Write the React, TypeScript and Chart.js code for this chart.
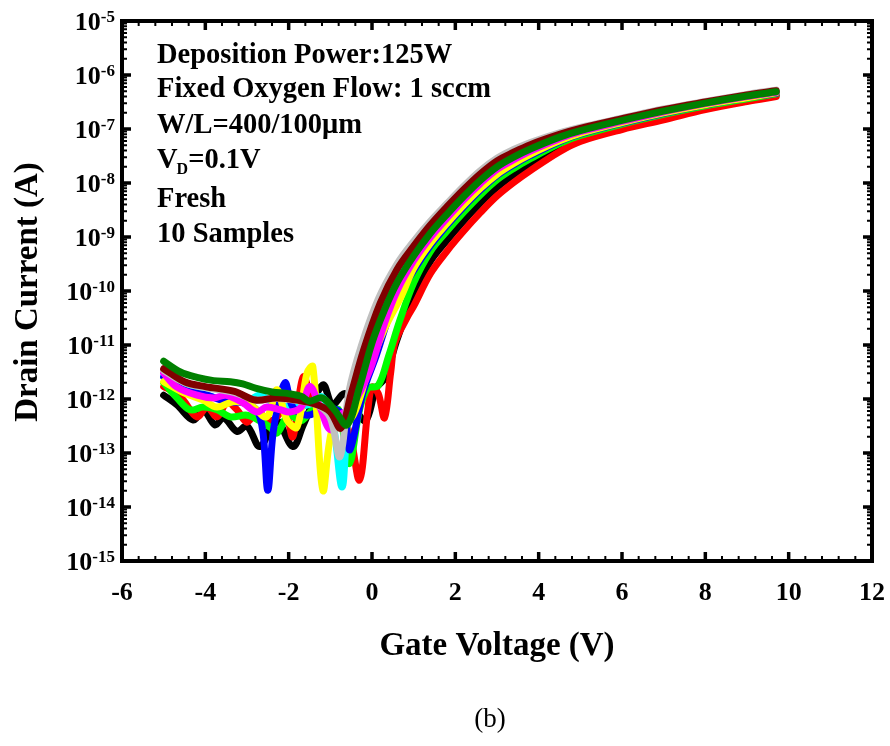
import React, { useEffect, useRef } from "react";
import { Chart, registerables } from "chart.js";
Chart.register(...registerables);

const FONT = '"Liberation Serif", "Times New Roman", serif';

// ---- axis ticks ----
const xTickLabels = [-6, -4, -2, 0, 2, 4, 6, 8, 10, 12];
const yTickExponents = [-15, -14, -13, -12, -11, -10, -9, -8, -7, -6, -5];

// ---- annotation text ----
const noteLines = [
  "Deposition Power:125W",
  "Fixed Oxygen Flow: 1 sccm",
  "W/L=400/100\u03bcm",
  "VD",
  "Fresh",
  "10 Samples",
];

// ---- shared on-state gate voltages (V) ----
const vOn = [1.0, 1.4, 1.8, 2.2, 2.6, 3.0, 3.4, 3.8, 4.5, 5, 6, 7, 8, 9, 9.7];

// ---- per-sample data: gate voltage (V) and log10 drain current (A) ----
// dark green
const vLowG = [-5.0, -4.6, -4.2, -3.8, -3.4, -3.1, -2.8, -2.4, -2.0, -1.7, -1.5, -1.2, -0.9, -0.6, -0.3, 0.0, 0.3, 0.6];
const logLowG = [-11.30, -11.50, -11.60, -11.66, -11.68, -11.72, -11.80, -11.87, -11.90, -11.95, -12.04, -11.98, -12.20, -12.48, -11.78, -10.96, -10.35, -9.85];
const logOnG = [-9.35, -8.93, -8.58, -8.25, -7.95, -7.70, -7.52, -7.37, -7.15, -7.03, -6.84, -6.67, -6.52, -6.39, -6.31];
// maroon
const vLowM = [-5.0, -4.5, -4.0, -3.3, -2.8, -2.3, -1.8, -1.3, -1.0, -0.75, -0.5, -0.2, 0.2, 0.6];
const logLowM = [-11.44, -11.68, -11.77, -11.86, -12.02, -11.98, -12.02, -12.11, -12.24, -12.54, -11.90, -11.09, -10.22, -9.60];
const logOnM = [-9.17, -8.78, -8.44, -8.12, -7.83, -7.59, -7.43, -7.29, -7.10, -6.99, -6.81, -6.64, -6.50, -6.37, -6.29];
// gray
const vLowGr = [-5.0, -4.5, -4.0, -3.3, -2.8, -2.3, -1.8, -1.3, -1.0, -0.77, -0.55, -0.25, 0.15, 0.6];
const logLowGr = [-11.47, -11.70, -11.79, -11.88, -12.02, -11.99, -12.03, -12.12, -12.35, -13.07, -11.85, -11.00, -10.15, -9.50];
const logOnGr = [-9.08, -8.71, -8.38, -8.06, -7.77, -7.54, -7.38, -7.25, -7.07, -6.97, -6.80, -6.63, -6.49, -6.36, -6.28];
// cyan
const vLowC = [-5.0, -4.5, -4.0, -3.5, -3.0, -2.7, -2.3, -1.9, -1.5, -1.2, -0.95, -0.72, -0.58, -0.4, -0.15, 0.2, 0.6];
const logLowC = [-11.58, -11.80, -11.92, -12.02, -12.05, -11.93, -12.10, -12.15, -12.10, -11.96, -12.40, -13.63, -12.40, -11.80, -11.15, -10.30, -9.70];
const logOnC = [-9.31, -8.89, -8.55, -8.22, -7.92, -7.67, -7.50, -7.35, -7.14, -7.02, -6.83, -6.66, -6.51, -6.38, -6.31];
// magenta
const vLowMg = [-5.0, -4.7, -4.2, -3.8, -3.5, -3.1, -2.77, -2.53, -2.2, -1.97, -1.7, -1.49, -1.25, -1.0, -0.77, -0.5, -0.05, 0.3, 0.6];
const logLowMg = [-11.52, -11.77, -11.93, -11.98, -11.93, -12.07, -12.24, -12.15, -12.20, -12.24, -12.15, -11.77, -12.15, -12.57, -12.30, -12.15, -11.46, -10.60, -10.00];
const logOnMg = [-9.44, -9.01, -8.65, -8.31, -8.01, -7.75, -7.57, -7.41, -7.18, -7.05, -6.86, -6.68, -6.53, -6.40, -6.32];
// yellow
const vLowY = [-5.0, -4.5, -4.05, -3.72, -3.33, -2.93, -2.53, -2.28, -2.04, -1.8, -1.56, -1.42, -1.18, -0.97, -0.75, -0.45, -0.1, 0.3, 0.7];
const logLowY = [-11.68, -11.89, -12.02, -12.15, -12.05, -12.10, -12.33, -11.83, -12.39, -12.52, -11.52, -11.40, -13.69, -12.60, -12.50, -12.30, -11.50, -10.70, -10.10];
const logOnY = [-9.58, -9.12, -8.75, -8.41, -8.10, -7.84, -7.64, -7.47, -7.22, -7.08, -6.88, -6.70, -6.55, -6.42, -6.33];
// blue
const vLowB = [-5.0, -4.53, -3.96, -3.48, -3.09, -2.77, -2.62, -2.5, -2.36, -2.09, -1.9, -1.56, -1.18, -0.84, -0.65, -0.53, -0.22, 0.1, 0.5];
const logLowB = [-11.59, -11.83, -11.93, -12.05, -12.07, -12.20, -12.60, -13.69, -12.55, -11.70, -12.15, -12.30, -12.20, -12.20, -12.40, -12.94, -11.89, -11.20, -10.30];
const logOnB = [-9.62, -9.16, -8.78, -8.44, -8.13, -7.86, -7.66, -7.49, -7.23, -7.09, -6.89, -6.71, -6.55, -6.42, -6.34];
// lime
const vLowL = [-5.0, -4.68, -4.37, -4.05, -3.72, -3.4, -3.0, -2.7, -2.45, -2.28, -2.0, -1.7, -1.4, -1.0, -0.8, -0.55, -0.3, -0.1, 0.15, 0.4, 0.67];
const logLowL = [-11.70, -11.98, -12.20, -12.15, -12.20, -12.33, -12.30, -12.40, -12.52, -12.63, -12.30, -12.40, -12.20, -12.30, -12.20, -13.20, -12.20, -11.80, -11.75, -11.20, -10.54];
const logOnL = [-9.85, -9.27, -8.89, -8.54, -8.22, -7.94, -7.73, -7.55, -7.27, -7.12, -6.91, -6.73, -6.57, -6.44, -6.35];
// black
const vLowK = [-5.0, -4.68, -4.29, -4.05, -3.77, -3.56, -3.24, -3.0, -2.69, -2.3, -1.9, -1.65, -1.18, -0.95, -0.65, -0.4, -0.15, 0.1, 0.3, 0.6];
const logLowK = [-11.93, -12.11, -12.39, -12.20, -12.48, -12.35, -12.60, -12.50, -12.88, -12.40, -12.88, -12.48, -11.74, -12.10, -11.90, -12.20, -12.40, -11.80, -11.62, -10.90];
const logOnK = [-10.05, -9.45, -9.06, -8.70, -8.37, -8.08, -7.85, -7.65, -7.34, -7.17, -6.95, -6.76, -6.60, -6.46, -6.37];
// red
const vLowR = [-5.0, -4.68, -4.53, -4.2, -3.96, -3.72, -3.48, -3.24, -3.0, -2.77, -2.4, -2.1, -1.9, -1.65, -1.4, -1.1, -0.8, -0.55, -0.3, -0.1, 0.0, 0.15, 0.3, 0.45, 0.55, 0.85];
const logLowR = [-11.77, -11.89, -12.02, -12.33, -12.15, -12.33, -12.07, -12.20, -12.43, -12.25, -12.40, -12.20, -12.70, -11.59, -12.10, -12.25, -12.30, -12.60, -13.50, -12.20, -11.78, -11.90, -12.35, -11.50, -10.96, -10.48];
const logOnR = [-10.28, -9.68, -9.26, -8.89, -8.55, -8.24, -7.99, -7.77, -7.42, -7.23, -7.01, -6.83, -6.64, -6.49, -6.40];

// drawing order: first is on top
const samples = [
  { name: "S10", color: "#008000", v: vLowG, low: logLowG, on: logOnG },
  { name: "S9", color: "#800000", v: vLowM, low: logLowM, on: logOnM },
  { name: "S8", color: "#C0C0C0", v: vLowGr, low: logLowGr, on: logOnGr },
  { name: "S6", color: "#FF00FF", v: vLowMg, low: logLowMg, on: logOnMg },
  { name: "S5", color: "#FFFF00", v: vLowY, low: logLowY, on: logOnY },
  { name: "S4", color: "#0000FF", v: vLowB, low: logLowB, on: logOnB },
  { name: "S7", color: "#00FFFF", v: vLowC, low: logLowC, on: logOnC },
  { name: "S3", color: "#00FF00", v: vLowL, low: logLowL, on: logOnL },
  { name: "S2", color: "#FF0000", v: vLowR, low: logLowR, on: logOnR },
  { name: "S1", color: "#000000", v: vLowK, low: logLowK, on: logOnK },
];

const decorPlugin = {
  id: "decor",
  afterDraw(chart: any) {
    const { ctx, chartArea: a, scales } = chart;
    const xs = scales.x;
    const ys = scales.y;
    ctx.save();
    ctx.strokeStyle = "#000";
    ctx.fillStyle = "#000";
    ctx.lineCap = "butt";

    // x minor ticks
    ctx.lineWidth = 2;
    for (let i = 0; i <= 45; i++) {
      const v = -6 + i * 0.4;
      const px = xs.getPixelForValue(v);
      ctx.beginPath();
      ctx.moveTo(px, a.bottom);
      ctx.lineTo(px, a.bottom - 5);
      ctx.moveTo(px, a.top);
      ctx.lineTo(px, a.top + 5);
      ctx.stroke();
    }
    // x major ticks
    ctx.lineWidth = 3.5;
    for (const v of xTickLabels) {
      const px = xs.getPixelForValue(v);
      ctx.beginPath();
      ctx.moveTo(px, a.bottom);
      ctx.lineTo(px, a.bottom - 9);
      ctx.moveTo(px, a.top);
      ctx.lineTo(px, a.top + 9);
      ctx.stroke();
    }
    // y minor ticks
    ctx.lineWidth = 2;
    for (const e of yTickExponents) {
      if (e === -5) continue;
      for (let m = 2; m <= 9; m++) {
        const py = ys.getPixelForValue(m * Math.pow(10, e));
        ctx.beginPath();
        ctx.moveTo(a.left, py);
        ctx.lineTo(a.left + 5, py);
        ctx.moveTo(a.right, py);
        ctx.lineTo(a.right - 5, py);
        ctx.stroke();
      }
    }
    // y major ticks
    ctx.lineWidth = 3.5;
    for (const e of yTickExponents) {
      const py = ys.getPixelForValue(Math.pow(10, e));
      ctx.beginPath();
      ctx.moveTo(a.left, py);
      ctx.lineTo(a.left + 9, py);
      ctx.moveTo(a.right, py);
      ctx.lineTo(a.right - 9, py);
      ctx.stroke();
    }
    // frame
    ctx.lineWidth = 4;
    ctx.strokeRect(a.left, a.top, a.right - a.left, a.bottom - a.top);

    // x tick labels
    ctx.font = `bold 26px ${FONT}`;
    ctx.textAlign = "center";
    ctx.textBaseline = "middle";
    for (const v of xTickLabels) {
      const px = xs.getPixelForValue(v);
      ctx.fillText(String(v), px, a.bottom + 32);
    }
    // y tick labels: 10^e
    for (const e of yTickExponents) {
      const py = ys.getPixelForValue(Math.pow(10, e));
      ctx.font = `bold 17px ${FONT}`;
      const sup = String(e);
      const supW = ctx.measureText(sup).width;
      const right = a.left - 7;
      ctx.textAlign = "right";
      ctx.textBaseline = "alphabetic";
      ctx.fillText(sup, right, py + 1);
      ctx.font = `bold 26px ${FONT}`;
      ctx.textBaseline = "middle";
      ctx.fillText("10", right - supW, py + 2);
    }

    // axis titles
    ctx.font = `bold 33px ${FONT}`;
    ctx.textAlign = "center";
    ctx.textBaseline = "alphabetic";
    ctx.fillText("Gate Voltage (V)", (a.left + a.right) / 2, a.bottom + 94);
    ctx.save();
    ctx.translate(37, (a.top + a.bottom) / 2 + 1);
    ctx.rotate(-Math.PI / 2);
    ctx.fillText("Drain Current (A)", 0, 0);
    ctx.restore();

    // annotation
    const baselines = [63, 97, 133, 168, 207, 242];
    ctx.textAlign = "left";
    ctx.textBaseline = "alphabetic";
    noteLines.forEach((t, i) => {
      const x0 = a.left + 35;
      const y0 = baselines[i];
      ctx.font = `bold 28.5px ${FONT}`;
      if (t === "VD") {
        ctx.fillText("V", x0, y0);
        const w = ctx.measureText("V").width;
        ctx.font = `bold 16px ${FONT}`;
        ctx.fillText("D", x0 + w - 1, y0 + 6);
        const wd = ctx.measureText("D").width;
        ctx.font = `bold 28.5px ${FONT}`;
        ctx.fillText("=0.1V", x0 + w + wd - 1, y0);
      } else {
        ctx.fillText(t, x0, y0);
      }
    });

    // caption
    ctx.font = `27px ${FONT}`;
    ctx.textAlign = "center";
    ctx.fillText("(b)", 490, 727);
    ctx.restore();
  },
};

export default function App() {
  const ref = useRef<HTMLCanvasElement>(null);
  useEffect(() => {
    const datasets = samples.map((s) => {
      const volts = [...s.v, ...vOn];
      const logs = [...s.low, ...s.on];
      return {
        label: s.name,
        data: volts.map((v, i) => ({ x: v, y: Math.pow(10, logs[i]) })),
        borderColor: s.color,
        backgroundColor: s.color,
        borderWidth: 7,
        pointRadius: 0,
        tension: 0.35,
        borderCapStyle: "round" as const,
        borderJoinStyle: "round" as const,
        fill: false,
      };
    });
    const chart = new Chart(ref.current!, {
      type: "line",
      data: { datasets },
      options: {
        responsive: false,
        animation: false,
        devicePixelRatio: 1,
        layout: { padding: { left: 0, top: 21, right: 18, bottom: 0 } },
        plugins: { legend: { display: false }, tooltip: { enabled: false } },
        scales: {
          x: {
            type: "linear",
            min: -6,
            max: 12,
            grid: { display: false },
            border: { display: false },
            ticks: { display: false },
            afterFit: (scale: any) => {
              scale.height = 746 - 561;
            },
          },
          y: {
            type: "logarithmic",
            min: 1e-15,
            max: 1e-5,
            grid: { display: false },
            border: { display: false },
            ticks: { display: false },
            afterFit: (scale: any) => {
              scale.width = 122;
            },
          },
        },
      },
      plugins: [decorPlugin],
    } as any);
    return () => chart.destroy();
  }, []);
  return (
    <div style={{ position: "absolute", left: 0, top: 0, width: 890, height: 746, background: "#fff" }}>
      <canvas ref={ref} width={890} height={746} style={{ display: "block", width: 890, height: 746 }} />
    </div>
  );
}
